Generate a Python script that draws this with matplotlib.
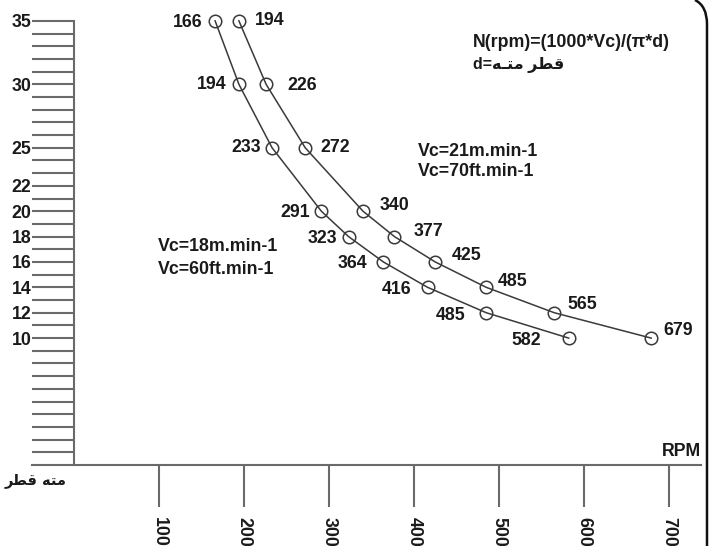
import matplotlib
matplotlib.use("Agg")
import matplotlib.pyplot as plt
from matplotlib.path import Path
from matplotlib.patches import PathPatch
from matplotlib.ticker import FixedLocator, FuncFormatter

# ---- data ----
diameters = [35, 30, 25, 20, 18, 16, 14, 12, 10]
rpm_vc18 = [166, 194, 233, 291, 323, 364, 416, 485, 582]
rpm_vc21 = [194, 226, 272, 340, 377, 425, 485, 565, 679]
y_labeled_ticks = [10, 12, 14, 16, 18, 20, 22, 25, 30, 35]
y_all_ticks = list(range(1, 36))
x_ticks = [100, 200, 300, 400, 500, 600, 700]

label_vc18 = ["Vc=18m.min-1", "Vc=60ft.min-1"]
label_vc21 = ["Vc=21m.min-1", "Vc=70ft.min-1"]
formula = "N(rpm)=(1000*Vc)/(\u03c0*d)"
# Persian words in visual (left-to-right glyph) order, joined presentation forms
fa_qotr = "\ufeae\ufec4\ufed7"          # قطر
fa_mateh = "\ufeea\ufe98\ufee3"         # مته
fa_mateh_k = "\ufeea\u0640\ufe98\ufee3" # متـه
fa_formula_d = "d=" + fa_mateh_k + " " + fa_qotr
fa_axis = fa_qotr + " " + fa_mateh

# label offsets in pixels (style, not data)
off_vc18 = [(-13, -2), (-12, 0), (-11, 0), (-11, -1), (-11, -2), (-16, -2), (-16, -2), (-21, -3), (-28, -2)]
off_vc21 = [(16, 0), (21, -1), (15, 0), (17, 6), (19, 5), (17, 6), (12, 6), (13, 8), (12, 8)]

W, H = 711, 546
DPI = 100
PX = 72.0 / DPI  # points per pixel

fig = plt.figure(figsize=(W / DPI, H / DPI), dpi=DPI)
fig.patch.set_facecolor("white")
ax = fig.add_axes([0, 0, 1, 1])
ax.set_facecolor("white")

# mapping: x pixel = 74 + 0.85*rpm ; y pixel(from top) = 465 - 12.69*d
x0, sx = 74.0, 0.85
y0, sy = 465.0, 12.69
ax.set_xlim(-x0 / sx, (W - x0) / sx)
ax.set_ylim(-(H - y0) / sy, y0 / sy)

axis_col = "#6a6a6a"
txt_col = "#1a1a1a"
FONT = ["Liberation Sans", "DejaVu Sans"]
FS = 12.8

for s in ["top", "right"]:
    ax.spines[s].set_visible(False)
ax.spines["left"].set_position(("data", 0))
ax.spines["bottom"].set_position(("data", 0))
ax.spines["left"].set_bounds(0, 35)
ax.spines["bottom"].set_bounds(-(x0 - 32) / sx, (701 - x0) / sx)
for s in ["left", "bottom"]:
    ax.spines[s].set_color(axis_col)
    ax.spines[s].set_linewidth(1.5)

ax.yaxis.set_major_locator(FixedLocator(y_all_ticks))
ax.yaxis.set_major_formatter(FuncFormatter(lambda v, p: str(int(v)) if int(round(v)) in y_labeled_ticks else ""))
ax.tick_params(axis="y", direction="out", length=42 * PX, width=1.5, color=axis_col, pad=0.5,
               labelsize=FS, labelcolor=txt_col)
ax.set_xticks(x_ticks)
ax.set_xticklabels([str(v) for v in x_ticks], rotation=270)
ax.tick_params(axis="x", direction="out", length=42 * PX, width=1.5, color=axis_col, pad=7,
               labelsize=FS, labelcolor=txt_col)
for lab in ax.get_xticklabels() + ax.get_yticklabels():
    lab.set_fontfamily(FONT)
    lab.set_fontweight("bold")

line_col = "#3a3a3a"
for rpms, offs, ha in [(rpm_vc18, off_vc18, "right"), (rpm_vc21, off_vc21, "left")]:
    ax.plot(rpms, diameters, color=line_col, lw=1.1, marker="o", ms=12.5 * PX,
            mfc="none", mec=line_col, mew=1.1, zorder=3)
    for r, d, (dx, dy) in zip(rpms, diameters, offs):
        ax.annotate(str(r), (r, d), xytext=(dx * PX, dy * PX), textcoords="offset points",
                    ha=ha, va="center", fontsize=FS, fontweight="bold", color=txt_col,
                    family=FONT)

def fpos(x, y):
    return x / W, 1 - y / H

def ftext(x, y, s, ha="left", fs=FS, **kw):
    fx, fy = fpos(x, y)
    ax.text(fx, fy, s, transform=ax.transAxes, ha=ha, va="center", fontsize=fs,
            fontweight="bold", color=txt_col, family=kw.pop("family", FONT), **kw)

ftext(473, 43, formula)
ftext(473, 65, fa_formula_d, fs=11.5)
ftext(418, 151, label_vc21[0])
ftext(418, 172, label_vc21[1])
ftext(158, 247, label_vc18[0])
ftext(158, 269, label_vc18[1])
ftext(701, 452, "RPM", ha="right")
ftext(36, 481, fa_axis, ha="center", fs=10.5, family=["DejaVu Sans"])

# page frame at right edge (rounded corner)
verts = [(695, 0), (707, 6), (707, 24), (707, H)]
codes = [Path.MOVETO, Path.CURVE3, Path.CURVE3, Path.LINETO]
verts_f = [fpos(x, y) for x, y in verts]
fig.add_artist(PathPatch(Path(verts_f, codes), transform=fig.transFigure, fill=False,
                         edgecolor="#111111", lw=1.8))

fig.savefig("out.png", dpi=DPI, facecolor="white")
